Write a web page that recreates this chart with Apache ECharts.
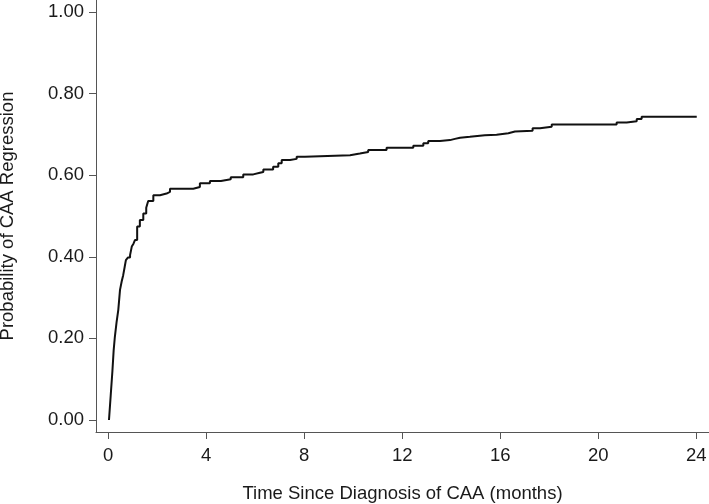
<!DOCTYPE html>
<html>
<head>
<meta charset="utf-8">
<script src="https://cdn.jsdelivr.net/npm/echarts@6/dist/echarts.min.js"></script>
<style>
  html, body { margin: 0; padding: 0; background: #fff; }
  #chart { width: 709px; height: 504px; }
</style>
</head>
<body>
<div id="chart"></div>
<script>
// months since diagnosis at which the curve steps up
var months = [0.03, 0.1, 0.17, 0.22, 0.27, 0.34, 0.41, 0.48, 0.55, 0.61, 0.67, 0.72, 0.8, 0.89, 0.96, 1.03, 1.09, 1.18, 1.29, 1.43, 1.55, 1.63,
  1.84, 2.11, 2.38, 2.52, 3.47, 3.74, 4.15, 4.6, 5.0, 5.51, 5.92, 6.19, 6.33, 6.73, 6.94, 7.08, 7.42, 7.69, 8.03,
  9.87, 10.27, 10.61, 11.36, 12.45, 12.86, 13.06, 13.54, 13.95, 14.15, 14.36, 14.76, 15.37, 15.85, 16.33, 16.6,
  17.32, 17.62, 18.1, 20.75, 21.16, 21.57, 21.77, 24.02];
// probability of regression after each step
var prob = [0.0, 0.06, 0.12, 0.17, 0.204, 0.24, 0.27, 0.319, 0.34, 0.355, 0.375, 0.392, 0.398, 0.404, 0.425, 0.432, 0.441, 0.474, 0.49, 0.506, 0.52, 0.537,
  0.551, 0.555, 0.559, 0.567, 0.571, 0.58, 0.586, 0.59, 0.595, 0.602, 0.606, 0.608, 0.614, 0.621, 0.629, 0.637, 0.64, 0.645, 0.649,
  0.653, 0.657, 0.662, 0.667, 0.672, 0.678, 0.684, 0.686, 0.689, 0.692, 0.694, 0.698, 0.699, 0.703, 0.707, 0.709,
  0.715, 0.719, 0.724, 0.729, 0.732, 0.738, 0.743, 0.743];

var xTicks = [0, 4, 8, 12, 16, 20, 24];
var yTicks = [0, 0.2, 0.4, 0.6, 0.8, 1.0];

var points = [];
for (var i = 0; i < months.length; i++) {
  points.push([months[i], prob[i]]);
}

var chart = echarts.init(document.getElementById('chart'));
var font = 'Liberation Sans, Arial, sans-serif';

chart.setOption({
  animation: false,
  grid: { left: 96, right: 0, top: 0, bottom: 72, containLabel: false, outerBoundsMode: 'none' },
  xAxis: {
    type: 'value',
    min: -0.5,
    max: 24.52,
    name: 'Time Since Diagnosis of CAA (months)',
    nameLocation: 'middle',
    nameGap: 52,
    nameTextStyle: { fontFamily: font, fontSize: 18.5, color: '#1a1a1a' },
    axisLine: { show: true, onZero: false, lineStyle: { color: '#555', width: 1 } },
    axisTick: { show: true, length: 7, customValues: xTicks, lineStyle: { color: '#555' } },
    axisLabel: {
      customValues: xTicks, margin: 14,
      fontFamily: font, fontSize: 18.5, color: '#1a1a1a'
    },
    splitLine: { show: false }
  },
  yAxis: {
    type: 'value',
    min: -0.0294,
    max: 1.0294,
    name: 'Probability of CAA Regression',
    nameLocation: 'middle',
    nameGap: 79,
    nameTextStyle: { fontFamily: font, fontSize: 18.5, color: '#1a1a1a' },
    axisLine: { show: true, onZero: false, lineStyle: { color: '#555', width: 1 } },
    axisTick: { show: true, length: 7, customValues: yTicks, lineStyle: { color: '#555' } },
    axisLabel: {
      customValues: yTicks, margin: 12,
      fontFamily: font, fontSize: 18.5, color: '#1a1a1a',
      formatter: function (v) { return v.toFixed(2); }
    },
    splitLine: { show: false }
  },
  series: [{
    type: 'line',
    step: 'end',
    data: points,
    symbol: 'none',
    lineStyle: { color: '#111', width: 2 }
  }]
});
</script>
</body>
</html>
